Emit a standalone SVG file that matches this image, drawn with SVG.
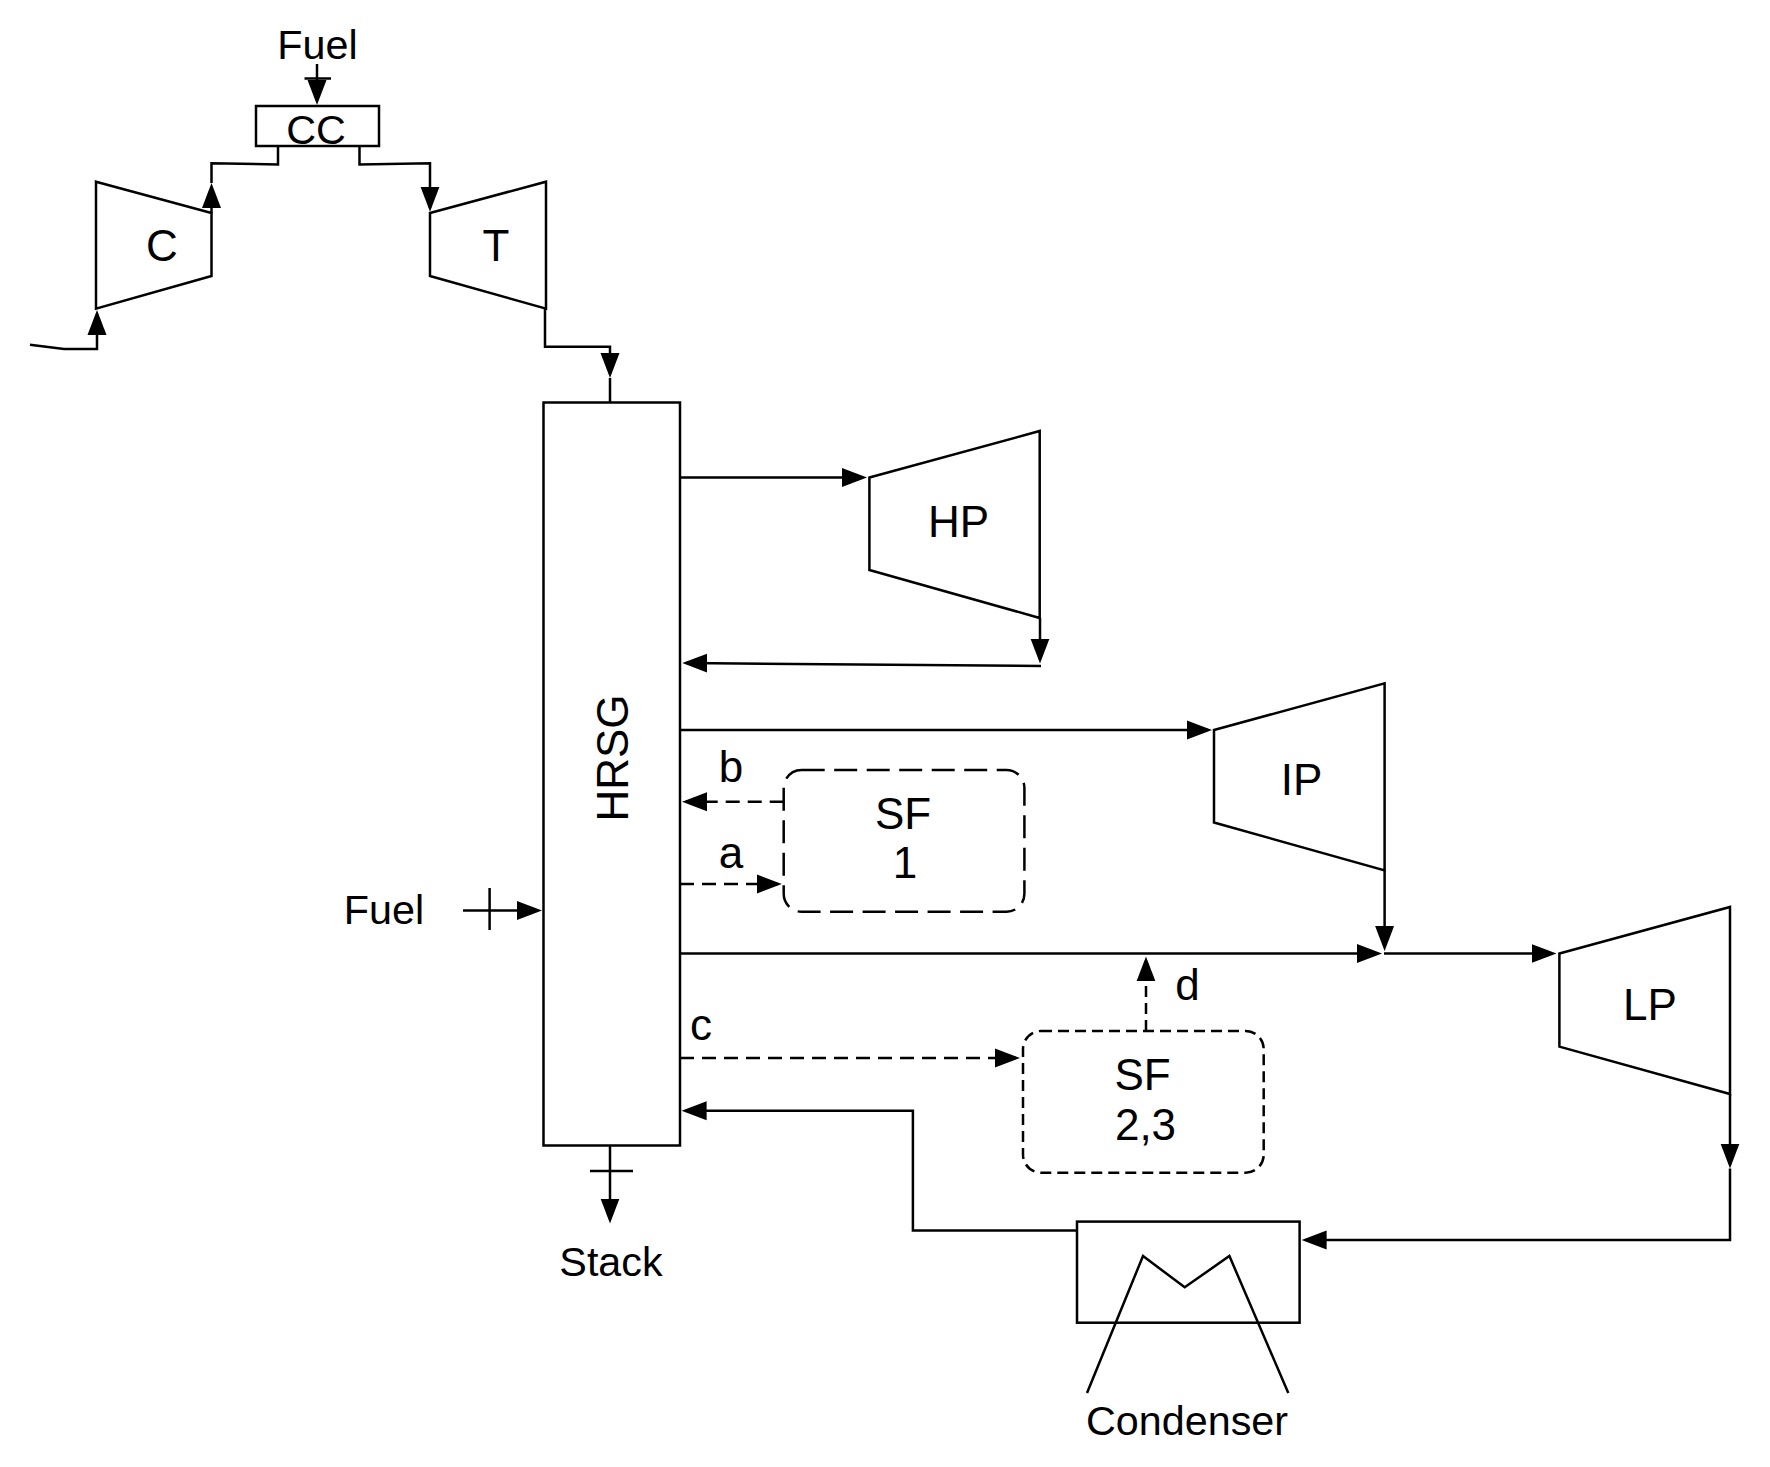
<svg xmlns="http://www.w3.org/2000/svg" width="1770" height="1467" viewBox="0 0 1770 1467">
<style>
text{font-family:"Liberation Sans",Arial,sans-serif;font-size:44px;fill:#000;text-anchor:middle}
.m{font-size:41.3px}
.s{fill:none;stroke:#000;stroke-width:2.5;stroke-linejoin:miter}
.n{fill:#fff;stroke:#000;stroke-width:2.5}
.a{marker-end:url(#h)}
.d{stroke-dasharray:14 8}
</style>
<defs>
<marker id="h" markerUnits="userSpaceOnUse" markerWidth="27" markerHeight="21" refX="21" refY="10" orient="auto" viewBox="0 0 27 21">
<path d="M0,0.5 L25,10 L0,19.5 Z" fill="#000"/>
</marker>
</defs>
<rect width="1770" height="1467" fill="#fff"/>
<g id="node-C"><path class="n" d="M96,181.7 L211.5,213 V276 L96,308.7 Z"/><text x="162" y="261">C</text></g>
<g id="node-T"><path class="n" d="M430,213 L546,181.7 V308.7 L430,276 Z"/><text x="496" y="261">T</text></g>
<g id="node-CC"><rect class="n" x="256" y="106" width="123" height="40"/><text class="m" x="316" y="144">CC</text></g>
<g id="node-HRSG"><rect class="n" x="543.5" y="402.5" width="136.5" height="743"/><text transform="translate(627.5,758) rotate(-90)" x="0" y="0">HRSG</text></g>
<g id="node-HP"><path class="n" d="M869.4,477.5 L1039.7,431 V618 L869.4,570 Z"/><text x="958.5" y="537">HP</text></g>
<g id="node-IP"><path class="n" d="M1214,730 L1384.6,683.4 V870.4 L1214,822.5 Z"/><text x="1301.5" y="795">IP</text></g>
<g id="node-LP"><path class="n" d="M1559.4,953.5 L1730,907 V1094 L1559.4,1046.6 Z"/><text x="1650" y="1020">LP</text></g>
<g id="node-SF1"><rect x="783.7" y="770" width="240.7" height="141.8" rx="18" class="s" style="stroke-dasharray:23 9.5"/><text x="903" y="828.5">SF</text><text x="905" y="878">1</text></g>
<g id="node-SF23"><rect x="1023" y="1031" width="240.7" height="141.7" rx="18" class="s" style="stroke-dasharray:11 6"/><text x="1142.5" y="1090">SF</text><text x="1145.5" y="1140">2,3</text></g>
<g id="node-Condenser"><rect class="n" x="1077" y="1221.6" width="222.6" height="101.1"/><path class="s" d="M1087,1393 L1143,1256 L1184.7,1287.3 L1229.4,1256 L1288.3,1393"/><text class="m" x="1187" y="1435">Condenser</text></g>
<g id="connectors">
<path class="s a" d="M317,64 V101"/>
<path class="s" d="M304.5,78.5 H331"/>
<path class="s" d="M278,146 V164.5 L211.5,163.3 V183"/>
<path class="s a" d="M211.5,213 V187"/>
<path class="s a" d="M359.5,146 V164.5 L430,163.3 V207.7"/>
<path class="s a" d="M30,344.7 L64,349 H97 V314"/>
<path class="s a" d="M545,308.7 V346.7 H610 V374"/>
<path class="s" d="M610,378 V402.5"/>
<path class="s a" d="M680,477.5 H863"/>
<path class="s a" d="M1040,618 V659.6"/>
<path class="s a" d="M1041,666 L686.3,663"/>
<path class="s a" d="M680,730 H1208"/>
<path class="s a" d="M1384.6,870.4 V947"/>
<path class="s a" d="M680,953.5 H1378"/>
<path class="s a" d="M1384,953.5 H1552.5"/>
<path class="s a" d="M1730,1094 V1164.5"/>
<path class="s a" d="M1730,1168.5 V1240 H1305.6"/>
<path class="s a" d="M1077,1230.5 H912.9 V1110.7 H685.6"/>
<path class="s a" d="M610,1146 V1219.5"/>
<path class="s" d="M590,1171 H633"/>
<path class="s a" d="M463,910.5 H538"/>
<path class="s" d="M489.6,888 V930"/>
<path class="s d a" d="M783.7,801.7 H686"/>
<path class="s d a" d="M680,884 H777.8"/>
<path class="s d a" d="M680,1058 H1016"/>
<path class="s a" style="stroke-dasharray:11 6" d="M1146,1031 V960.4"/>
</g>
<g id="labels">
<text class="m" x="317.5" y="58.7">Fuel</text>
<text class="m" x="384" y="924">Fuel</text>
<text class="m" x="611" y="1276">Stack</text>
<text x="731" y="781.5">b</text>
<text x="731" y="868">a</text>
<text x="701" y="1040">c</text>
<text x="1187.5" y="1000">d</text>
</g>
</svg>
